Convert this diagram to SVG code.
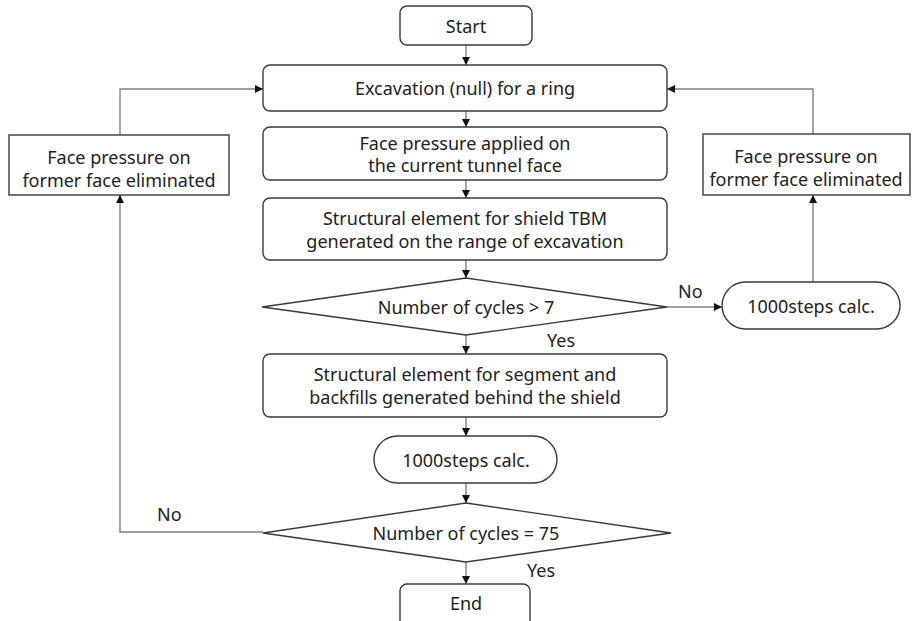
<svg xmlns="http://www.w3.org/2000/svg" width="912" height="621" viewBox="0 0 912 621">
<style>
.box{fill:#fff;stroke:#3a3a3a;stroke-width:1.4}
.con{fill:none;stroke:#808080;stroke-width:1.4}
text{font-family:"Noto Sans","Open Sans","DejaVu Sans",sans-serif;font-size:18px;fill:#222;text-anchor:middle;dominant-baseline:central}
.lbl{text-anchor:start}
</style>
<defs>
<marker id="ah" viewBox="0 0 10 10" refX="10" refY="5" markerWidth="8" markerHeight="8" markerUnits="userSpaceOnUse" orient="auto">
<path d="M0,0 L10,5 L0,10 z" fill="#111"/>
</marker>
</defs>
<rect width="912" height="621" fill="#fff"/>
<g id="connectors">
<line class="con" x1="466" y1="45" x2="466" y2="65" marker-end="url(#ah)"/>
<line class="con" x1="466" y1="111" x2="466" y2="127" marker-end="url(#ah)"/>
<line class="con" x1="466" y1="180" x2="466" y2="198" marker-end="url(#ah)"/>
<line class="con" x1="466" y1="260" x2="466" y2="278" marker-end="url(#ah)"/>
<line class="con" x1="466" y1="335" x2="466" y2="354" marker-end="url(#ah)"/>
<line class="con" x1="466" y1="417" x2="466" y2="436" marker-end="url(#ah)"/>
<line class="con" x1="466" y1="483" x2="466" y2="503" marker-end="url(#ah)"/>
<line class="con" x1="466" y1="562" x2="466" y2="584" marker-end="url(#ah)"/>
<line class="con" x1="667" y1="307" x2="722" y2="307" marker-end="url(#ah)"/>
<line class="con" x1="813" y1="282" x2="813" y2="195" marker-end="url(#ah)"/>
<polyline class="con" points="813,134 813,89 667,89" marker-end="url(#ah)"/>
<polyline class="con" points="263,532 120,532 120,195" marker-end="url(#ah)"/>
<polyline class="con" points="120,135 120,89 263,89" marker-end="url(#ah)"/>
<text class="lbl" x="678" y="291">No</text>
<text class="lbl" x="547" y="340">Yes</text>
<text class="lbl" x="157" y="514">No</text>
<text class="lbl" x="527" y="570">Yes</text>
</g>
<g id="start"><rect class="box" x="400" y="6" width="132" height="39" rx="7"/><text x="466" y="26">Start</text></g>
<g id="excavation"><rect class="box" x="263" y="65" width="404" height="46" rx="7"/><text x="465" y="88">Excavation (null) for a ring</text></g>
<g id="facepressure"><rect class="box" x="263" y="127" width="404" height="53" rx="7"/><text x="465" y="143">Face pressure applied on</text><text x="465" y="165">the current tunnel face</text></g>
<g id="shield"><rect class="box" x="263" y="198" width="404" height="62" rx="7"/><text x="465" y="218">Structural element for shield TBM</text><text x="465" y="241">generated on the range of excavation</text></g>
<g id="decision1"><polygon class="box" points="466,278 667,307 466,335 262,307"/><text x="466" y="307">Number of cycles &gt; 7</text></g>
<g id="calc1"><rect class="box" x="722" y="282" width="178" height="47" rx="23.5"/><text x="811" y="306">1000steps calc.</text></g>
<g id="rightbox"><rect class="box" x="703" y="134" width="207" height="61"/><text x="806" y="156">Face pressure on</text><text x="806" y="179">former face eliminated</text></g>
<g id="leftbox"><rect class="box" x="9" y="135" width="220" height="60"/><text x="119" y="157">Face pressure on</text><text x="119" y="180">former face eliminated</text></g>
<g id="segment"><rect class="box" x="263" y="354" width="404" height="63" rx="7"/><text x="465" y="374">Structural element for segment and</text><text x="465" y="397">backfills generated behind the shield</text></g>
<g id="calc2"><rect class="box" x="374" y="436" width="183" height="47" rx="23.5"/><text x="466" y="460">1000steps calc.</text></g>
<g id="decision2"><polygon class="box" points="466,503 671,533 466,562 263,533"/><text x="466" y="533">Number of cycles = 75</text></g>
<g id="end"><rect class="box" x="400" y="584" width="130" height="44" rx="7"/><text x="466" y="603">End</text></g>
</svg>
